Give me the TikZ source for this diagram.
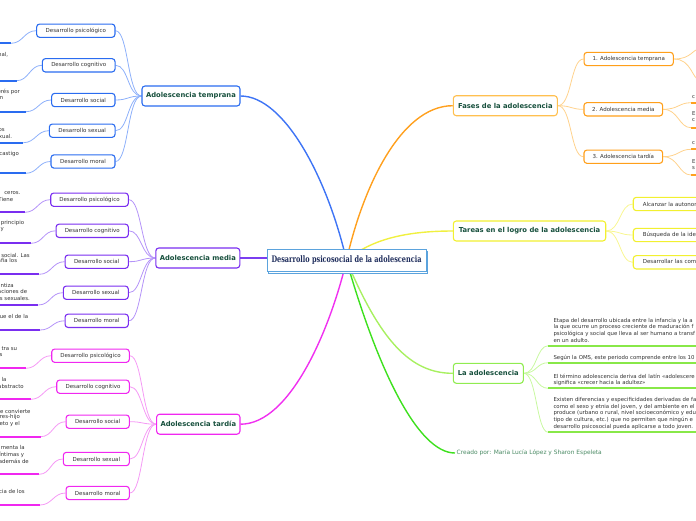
\documentclass[tikz,border=0pt]{standalone}
\usepackage{fontspec}
\usepackage{graphicx}
\newfontfamily\dv{DejaVu Sans}
\newfontfamily\dvs{DejaVu Serif}
\usetikzlibrary{shadows,backgrounds}
\definecolor{tgreen}{HTML}{17503D}
\definecolor{tgray}{HTML}{333333}
\definecolor{navy}{HTML}{1F2D5C}
\definecolor{cblue}{HTML}{5BA3DD}
\definecolor{bmain}{HTML}{2A6CF0}
\definecolor{bconn}{HTML}{3E74F5}
\definecolor{bsub}{HTML}{8DB0FA}
\definecolor{pmain}{HTML}{7A2EF0}
\definecolor{pconn}{HTML}{7A3EF0}
\definecolor{psub}{HTML}{B493F8}
\definecolor{mmain}{HTML}{F028F0}
\definecolor{mconn}{HTML}{F030F0}
\definecolor{msub}{HTML}{F59AF5}
\definecolor{omain}{HTML}{FFC050}
\definecolor{oconn}{HTML}{FFA01E}
\definecolor{obox}{HTML}{FF9F1A}
\definecolor{osub}{HTML}{FFD28C}
\definecolor{ymain}{HTML}{F2F030}
\definecolor{yconn}{HTML}{F0F040}
\definecolor{ysub}{HTML}{F8F690}
\definecolor{lmain}{HTML}{90EC50}
\definecolor{lconn}{HTML}{A8F060}
\definecolor{lsub}{HTML}{C8F8A0}
\definecolor{lline}{HTML}{88E848}
\definecolor{gconn}{HTML}{3EE01E}
\definecolor{credit}{HTML}{4A8A64}
\tikzset{
  mainbox/.style={draw, rounded corners=3pt, line width=1.1pt, fill=white, text=tgreen,
    font=\dv\bfseries\fontsize{6.8}{8}\selectfont, minimum height=20pt, inner sep=0pt},
  subbox/.style={draw, rounded corners=3pt, line width=1.1pt, fill=white, text=tgray,
    font=\dv\fontsize{5.5}{6.5}\selectfont, minimum height=13.3pt, inner sep=0pt},
  leaf/.style={text=tgray, font=\dv\fontsize{5.4}{6.7}\selectfont, inner sep=0pt},
  leafR/.style={leaf, anchor=east},
  leafL/.style={leaf, anchor=west},
  para/.style={leaf, anchor=north west, align=left},
  conn/.style={line width=0.8pt},
  trunk/.style={line width=1.4pt},
  uline/.style={line width=1.8pt},
}
\begin{document}
\begin{tikzpicture}[x=1pt,y=-1pt]
\useasboundingbox (0,0) rectangle (696,520);
\clip (0,0) rectangle (696,520);

% central node
\node[draw=cblue, line width=0.9pt, fill=white, minimum width=159pt, minimum height=22pt, inner sep=0pt,
  copy shadow={shadow xshift=1.8pt, shadow yshift=-1.8pt, draw=cblue, fill=white}] (c) at (346.5,260.5)
  {\textcolor{navy}{\resizebox{150pt}{6.8pt}{\dvs\bfseries Desarrollo psicosocial de la adolescencia}}};

% main boxes
\node[mainbox, draw=bmain, minimum width=98pt] (bt) at (191,96) {Adolescencia temprana};
\node[mainbox, draw=pmain, minimum width=84pt] (pm) at (197.8,258) {Adolescencia media};
\node[mainbox, draw=mmain, minimum width=83.3pt] (mt) at (198.3,424.2) {Adolescencia tardía};
\node[mainbox, draw=omain, minimum width=104pt] (fa) at (505.3,105.7) {Fases de la adolescencia};
\node[mainbox, draw=ymain, minimum width=152.4pt] (ta) at (529.5,231) {Tareas en el logro de la adolescencia};
\node[mainbox, draw=lmain, minimum width=70pt] (la) at (488.3,373.3) {La adolescencia};
\node[anchor=west, inner sep=1.5pt, text=credit, font=\dv\fontsize{5.9}{7}\selectfont] (cr) at (455,453)
  {Creado por: María Lucía López y Sharon Espeleta};

% blue sub boxes
\node[subbox, draw=bmain, minimum width=78.3pt] (bt1) at (75.8,30.7) {Desarrollo psicológico};
\node[subbox, draw=bmain, minimum width=72.7pt] (bt2) at (78.7,65.3) {Desarrollo cognitivo};
\node[subbox, draw=bmain, minimum width=63.3pt] (bt3) at (83.3,100) {Desarrollo social};
\node[subbox, draw=bmain, minimum width=65.7pt] (bt4) at (82.2,130.7) {Desarrollo sexual};
\node[subbox, draw=bmain, minimum width=64pt] (bt5) at (83,161.5) {Desarrollo moral};
% purple sub boxes
\node[subbox, draw=pmain, minimum width=77.6pt] (pm1) at (89.5,199.7) {Desarrollo psicológico};
\node[subbox, draw=pmain, minimum width=72.3pt] (pm2) at (92.2,230.8) {Desarrollo cognitivo};
\node[subbox, draw=pmain, minimum width=63.3pt] (pm3) at (96.7,261.7) {Desarrollo social};
\node[subbox, draw=pmain, minimum width=65pt] (pm4) at (95.8,292.7) {Desarrollo sexual};
\node[subbox, draw=pmain, minimum width=63.3pt] (pm5) at (96.7,320.8) {Desarrollo moral};
% magenta sub boxes
\node[subbox, draw=mmain, minimum width=77.6pt] (mt1) at (90.5,355.7) {Desarrollo psicológico};
\node[subbox, draw=mmain, minimum width=72.6pt] (mt2) at (93,386.7) {Desarrollo cognitivo};
\node[subbox, draw=mmain, minimum width=63.3pt] (mt3) at (97.7,421.7) {Desarrollo social};
\node[subbox, draw=mmain, minimum width=66pt] (mt4) at (96.3,459) {Desarrollo sexual};
\node[subbox, draw=mmain, minimum width=63.3pt] (mt5) at (97.7,493) {Desarrollo moral};
% orange sub boxes
\node[subbox, draw=obox, minimum width=89.3pt] (fs1) at (628.7,59) {1. Adolescencia temprana};
\node[subbox, draw=obox, minimum width=78.7pt] (fs2) at (623.3,109.3) {2. Adolescencia media};
\node[subbox, draw=obox, minimum width=78.7pt] (fs3) at (623.3,156.7) {3. Adolescencia tardía};
% yellow sub boxes
\node[subbox, draw=ymain, anchor=west, text width=112pt, align=left, inner xsep=9.6pt] (ta1) at (632.7,204) {Alcanzar la autonom};
\node[subbox, draw=ymain, anchor=west, text width=112pt, align=left, inner xsep=9.6pt] (ta2) at (632.7,235) {Búsqueda de la iden};
\node[subbox, draw=ymain, anchor=west, text width=112pt, align=left, inner xsep=9.6pt] (ta3) at (632.7,262.3) {Desarrollar las comp};

% leaf anchor coordinates
\coordinate (bt1u) at (11,43.3);   \coordinate (bt2u) at (16.7,80.7);
\coordinate (bt3u) at (26,111.7);  \coordinate (bt4u) at (23.3,142.7);
\coordinate (bt5u) at (25.7,173.3);
\coordinate (pm1u) at (25,212.3);  \coordinate (pm2u) at (31,243.3);
\coordinate (pm3u) at (39.3,274.3);\coordinate (pm4u) at (38.3,305);
\coordinate (pm5u) at (40,330);
\coordinate (mt1u) at (26,368.3);  \coordinate (mt2u) at (31,399.3);
\coordinate (mt3u) at (40.7,436.7);\coordinate (mt4u) at (39,474.3);
\coordinate (mt5u) at (40,505);
\coordinate (f1a) at (700,49);     \coordinate (f1b) at (700,80);
\coordinate (fm1u) at (691,102.7); \coordinate (fm2u) at (691,127.7);
\coordinate (ft1u) at (691,149.3); \coordinate (ft2u) at (691,175);
\coordinate (lu1) at (548.3,345.7);\coordinate (lu2) at (548.3,362.7);
\coordinate (lu3) at (548.3,388.3);\coordinate (lu4) at (548.3,432.3);

% left leaf text fragments
\node[leafR] (bt2a) at (8.3,55) {nal,};
\node[leafR] (bt3a) at (20,92.3) {erés por};
\node[leafR] (bt3b) at (3.3,98.3) {m};
\node[leafR] (bt4a) at (5,130) {os};
\node[leafR] (bt4b) at (12.3,136) {xual.};
\node[leafR] (bt5a) at (19,154.3) {castigo};
\node[leafR] (pm1a) at (20.7,193.3) {ceros.};
\node[leafR] (pm1b) at (13.3,199.3) {Tiene};
\node[leafR] (pm2a) at (24.3,223.3) {principio};
\node[leafR] (pm2b) at (4,230) {y};
\node[leafR] (pm3a) at (30,255) {social. Las};
\node[leafR] (pm3b) at (17.3,260.7) {afía los};
\node[leafR] (pm4a) at (14,285) {ntiza};
\node[leafR] (pm4b) at (27.3,291.7) {aciones de};
\node[leafR] (pm4c) at (30,298.3) {s sexuales.};
\node[leafR] (pm5a) at (28.3,316) {ue el de la};
\node[leafR] (mt1a) at (17.3,349) {tra su};
\node[leafR] (mt1b) at (2.7,355) {s};
\node[leafR] (mt2a) at (6.7,379.3) {la};
\node[leafR] (mt2b) at (24,386) {abstracto};
\node[leafR] (mt3a) at (30.7,411) {e convierte};
\node[leafR] (mt3b) at (20,417.3) {res-hijo};
\node[leafR] (mt3c) at (20,424) {eto y el};
\node[leafR] (mt4a) at (25,447.7) {menta la};
\node[leafR] (mt4b) at (24.3,455) {íntimas y};
\node[leafR] (mt4c) at (29,461.7) {además de};
\node[leafR] (mt5a) at (25,491.7) {cia de los};

% right leaf text fragments (fases)
\node[leafL] (fm1a) at (692,96.7) {c};
\node[leafL] (fm2a) at (692,114) {E};
\node[leafL] (fm2b) at (692,120.5) {c};
\node[leafL] (ft1a) at (692,143.5) {c};
\node[leafL] (ft2a) at (692,161.7) {E};
\node[leafL] (ft2b) at (692,168.3) {s};

% la adolescencia paragraphs
\node[para] (p1) at (553.3,317.7) {Etapa del desarrollo ubicada entre la infancia y la a\\la que ocurre un proceso creciente de maduración f\\psicológica y social que lleva al ser humano a transf\\en un adulto.};
\node[para] (p2) at (553.3,355) {Según la OMS, este periodo comprende entre los 10};
\node[para] (p3) at (553.3,373.7) {El término adolescencia deriva del latín «adolescere\\significa «crecer hacia la adultez»};
\node[para] (p4) at (553.3,397) {Existen diferencias y especificidades derivadas de fa\\como el sexo y etnia del joven, y del ambiente en el\\produce (urbano o rural, nivel socioeconómico y edu\\tipo de cultura, etc.) que no permiten que ningún e\\desarrollo psicosocial pueda aplicarse a todo joven.};

\begin{scope}[on background layer]
  % trunks
  \draw[trunk, bconn] (c.center) .. controls (328,180) and (285,96) .. (bt.east);
  \draw[trunk, pconn] (c.center |- pm.east) -- (pm.east);
  \draw[trunk, mconn] (c.center) .. controls (330,330) and (290,424.2) .. (mt.east);
  \draw[trunk, oconn] (c.center) .. controls (362,190) and (400,105.7) .. (fa.west);
  \draw[trunk, yconn] (c.center) .. controls (372,238) and (410,231) .. (ta.west);
  \draw[trunk, lconn] (c.center) .. controls (380,340) and (410,373.3) .. (la.west);
  \draw[trunk, gconn] (c.center) .. controls (378,370) and (418,453) .. (cr.west);
  % blue
  \foreach \s in {bt1,bt2,bt3,bt4,bt5} {
    \draw[conn, bsub] (bt.west) .. controls +(-14,0) and +(13,0) .. (\s.east);
    \draw[conn, bsub] (\s.west) .. controls +(-12,0) and +(12,0) .. (\s u);
    \draw[uline, bmain] (\s u) -- ++(-40,0);
  }
  % purple
  \foreach \s in {pm1,pm2,pm3,pm4,pm5} {
    \draw[conn, psub] (pm.west) .. controls +(-14,0) and +(13,0) .. (\s.east);
    \draw[conn, psub] (\s.west) .. controls +(-12,0) and +(12,0) .. (\s u);
    \draw[uline, pmain] (\s u) -- ++(-60,0);
  }
  % magenta
  \foreach \s in {mt1,mt2,mt3,mt4,mt5} {
    \draw[conn, msub] (mt.west) .. controls +(-14,0) and +(13,0) .. (\s.east);
    \draw[conn, msub] (\s.west) .. controls +(-12,0) and +(12,0) .. (\s u);
    \draw[uline, mmain] (\s u) -- ++(-60,0);
  }
  % orange
  \foreach \s in {fs1,fs2,fs3}
    \draw[conn, osub] (fa.east) .. controls +(14,0) and +(-13,0) .. (\s.west);
  \draw[conn, osub] (fs1.east) .. controls +(18,0) and +(-8,0) .. (f1a);
  \draw[conn, osub] (fs1.east) .. controls +(18,0) and +(-8,0) .. (f1b);
  \draw[conn, osub] (fs2.east) .. controls +(15,0) and +(-12,0) .. (fm1u);
  \draw[conn, osub] (fs2.east) .. controls +(15,0) and +(-12,0) .. (fm2u);
  \draw[conn, osub] (fs3.east) .. controls +(15,0) and +(-12,0) .. (ft1u);
  \draw[conn, osub] (fs3.east) .. controls +(15,0) and +(-12,0) .. (ft2u);
  \foreach \u in {fm1u,fm2u,ft1u,ft2u}
    \draw[uline, oconn] (\u) -- ++(20,0);
  % yellow
  \foreach \s in {ta1,ta2,ta3}
    \draw[conn, ysub] (ta.east) .. controls +(14,0) and +(-13,0) .. (\s.west);
  % lime
  \foreach \u in {lu1,lu2,lu3,lu4} {
    \draw[conn, lsub] (la.east) .. controls +(13,0) and +(-12,0) .. (\u);
    \draw[uline, lline] (\u) -- ++(160,0);
  }
\end{scope}
\end{tikzpicture}
\end{document}
